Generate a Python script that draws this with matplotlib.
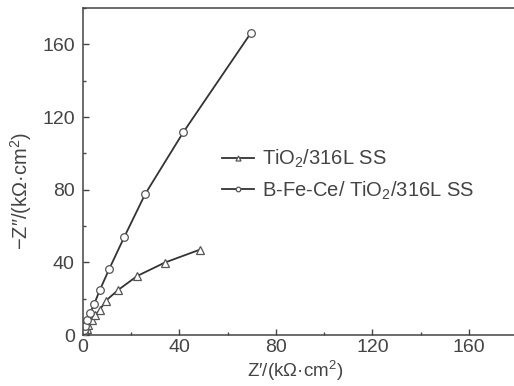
import matplotlib
matplotlib.use("Agg")
import matplotlib.pyplot as plt
from matplotlib.ticker import MultipleLocator

plt.rcParams['font.family'] = ['Liberation Sans', 'DejaVu Sans']
plt.rcParams['mathtext.default'] = 'regular'

# Data (kOhm cm^2)
tio2_x = [0.3, 0.8, 1.5, 2.2, 3.6, 5.0, 7.0, 9.4, 14.6, 22.5, 34.0, 48.5]
tio2_y = [0.8, 2.0, 3.5, 5.5, 8.3, 11.0, 13.8, 18.8, 24.8, 32.5, 39.9, 47.0]
bfc_x = [0.3, 0.6, 0.9, 1.8, 2.9, 4.6, 7.0, 10.9, 17.1, 25.8, 41.6, 69.5]
bfc_y = [1.2, 2.5, 5.0, 8.3, 12.0, 16.9, 24.8, 36.4, 53.9, 77.6, 111.6, 166.0]

xticks = [0, 40, 80, 120, 160]
yticks = [0, 40, 80, 120, 160]

fig = plt.figure(figsize=(5.14, 3.86), dpi=100)
ax = fig.add_axes([83/514, 1-335/386, 434/514, 327/386])

c = '#333333'
tc = '#444444'
ax.plot(tio2_x, tio2_y, '-', color=c, lw=1.3, marker='^', ms=6, mfc='white', mec='#555555', mew=0.9,
        label='TiO$_2$/316L SS')
ax.plot(bfc_x, bfc_y, '-', color=c, lw=1.3, marker='o', ms=5.5, mfc='white', mec='#555555', mew=0.9,
        label='B-Fe-Ce/ TiO$_2$/316L SS')

ax.set_xlim(0, 180)
ax.set_ylim(0, 180)
ax.set_xticks(xticks)
ax.set_yticks(yticks)
ax.xaxis.set_minor_locator(MultipleLocator(20))
ax.yaxis.set_minor_locator(MultipleLocator(20))
ax.tick_params(which='both', direction='in', colors=tc, labelcolor=tc, labelsize=14)
ax.tick_params(which='major', length=4, width=1)
ax.tick_params(which='minor', length=2.5, width=1)
ax.tick_params(axis='x', pad=3)
ax.tick_params(axis='y', pad=6)
for s in ax.spines.values():
    s.set_color(tc)
    s.set_linewidth(1.1)

ax.set_xlabel("Z\u2032/(k\u03a9\u00b7cm$^2$)", fontsize=13.5, color=tc)
ax.set_ylabel("\u2212Z\u2033/(k\u03a9\u00b7cm$^2$)", fontsize=14.5, color=tc)
ax.xaxis.set_label_coords((295-83)/434, (335-359)/327)
ax.yaxis.set_label_coords((34-83)/434, (335-191)/327)

leg = ax.legend(loc='upper left', bbox_to_anchor=((214-83)/434, (335-140)/327), frameon=False,
                fontsize=14.5, handlelength=1.6, handletextpad=0.4, labelspacing=0.45,
                markerscale=0.6, borderaxespad=0)
for t in leg.get_texts():
    t.set_color(tc)

fig.savefig('out.png', dpi=100)
